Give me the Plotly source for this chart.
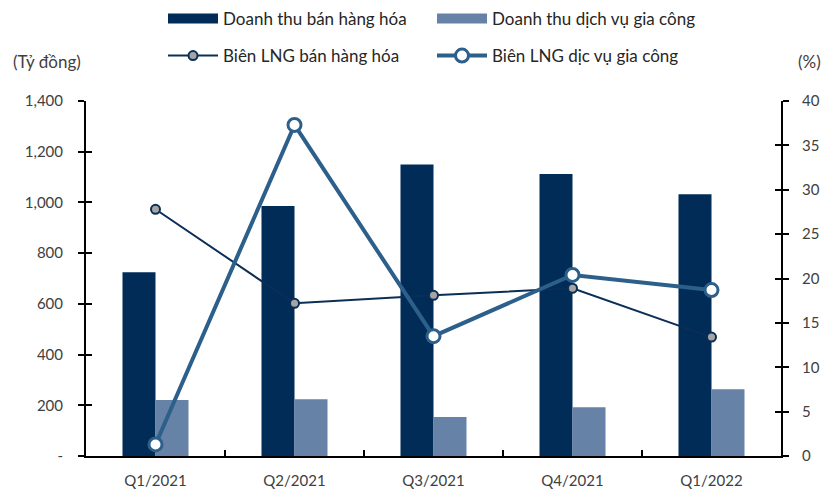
import plotly.graph_objects as go

categories = ["Q1/2021", "Q2/2021", "Q3/2021", "Q4/2021", "Q1/2022"]
rev_goods = [725, 986, 1150, 1112, 1032]
rev_service = [221, 224, 154, 192, 263]
margin_goods = [27.8, 17.2, 18.1, 18.9, 13.4]
margin_service = [1.3, 37.3, 13.5, 20.4, 18.7]

left_ticks = [0, 200, 400, 600, 800, 1000, 1200, 1400]
left_ticktext = ["-", "200", "400", "600", "800", "1,000", "1,200", "1,400"]
right_ticks = [0, 5, 10, 15, 20, 25, 30, 35, 40]

C_DARK = "#012c57"
C_LIGHT = "#6682a6"
C_LINE1 = "#0b2e57"
C_LINE2 = "#2d5f8b"
C_MK1 = "#a5a5a5"
FONT = "Lato"
TXT = "#404040"

# the page body adds an 8px offset; the figure is sized to fill the rest of the window
W, H = 830, 492

fig = go.Figure()

fig.add_trace(go.Bar(x=categories, y=rev_goods, marker=dict(color=C_DARK, line=dict(width=0)),
                     showlegend=False, name="Doanh thu bán hàng hóa"))
fig.add_trace(go.Bar(x=categories, y=rev_service, marker=dict(color=C_LIGHT, line=dict(width=0)),
                     showlegend=False, name="Doanh thu dịch vụ gia công"))

# legend proxies for bars
fig.add_trace(go.Scatter(x=[None], y=[None], mode="lines", line=dict(color=C_DARK, width=12),
                         name="Doanh thu bán hàng hóa", legend="legend"))
fig.add_trace(go.Scatter(x=[None], y=[None], mode="lines", line=dict(color=C_LIGHT, width=12),
                         name="Doanh thu dịch vụ gia công", legend="legend"))

fig.add_trace(go.Scatter(x=categories, y=margin_goods, yaxis="y2", mode="lines+markers",
                         line=dict(color=C_LINE1, width=2),
                         marker=dict(size=9, color=C_MK1, line=dict(color=C_LINE1, width=2)),
                         name="Biên LNG bán hàng hóa", legend="legend2"))
fig.add_trace(go.Scatter(x=categories, y=margin_service, yaxis="y2", mode="lines+markers",
                         line=dict(color=C_LINE2, width=4),
                         marker=dict(size=13, color="white", line=dict(color=C_LINE2, width=3)),
                         name="Biên LNG dịc vụ gia công", legend="legend2"))

# invisible traces to carry inner tick marks
fig.add_trace(go.Scatter(x=categories, y=[None] * 5, yaxis="y3", showlegend=False, hoverinfo="skip"))
fig.add_trace(go.Scatter(x=categories, y=[None] * 5, yaxis="y4", showlegend=False, hoverinfo="skip"))

axis_font = dict(family=FONT, size=15, color=TXT)
leg_font = dict(family=FONT, size=17, color="#262626")

fig.update_layout(
    width=W, height=H,
    margin=dict(l=78, r=57, t=93, b=44),
    paper_bgcolor="white", plot_bgcolor="white",
    barmode="group", bargap=0.525, bargroupgap=0,
    font=dict(family=FONT, size=16, color=TXT),
    xaxis=dict(type="category", showline=True, linecolor="black", linewidth=2,
               ticks="inside", tickson="boundaries", ticklen=6, tickcolor="black", tickwidth=2,
               showgrid=False, tickfont=axis_font, zeroline=False, ticklabelstandoff=10),
    yaxis=dict(range=[0, 1400], tickvals=left_ticks, ticktext=left_ticktext,
               showline=True, linecolor="black", linewidth=2, ticks="outside", ticklen=6,
               tickcolor="black", tickwidth=2, showgrid=False, zeroline=False, tickfont=axis_font,
               ticklabelstandoff=12),
    yaxis2=dict(range=[0, 40], tickvals=right_ticks, overlaying="y", side="right",
                showline=True, linecolor="black", linewidth=2, ticks="outside", ticklen=6,
                tickcolor="black", tickwidth=2, showgrid=False, zeroline=False, tickfont=axis_font,
                ticklabelstandoff=10),
    yaxis3=dict(range=[0, 1400], tickvals=left_ticks, overlaying="y", side="left",
                showticklabels=False, ticks="inside", ticklen=6, tickcolor="black", tickwidth=2,
                showline=False, showgrid=False, zeroline=False),
    yaxis4=dict(range=[0, 40], tickvals=right_ticks, overlaying="y", side="right",
                showticklabels=False, ticks="inside", ticklen=6, tickcolor="black", tickwidth=2,
                showline=False, showgrid=False, zeroline=False),
    legend=dict(orientation="h", xref="container", yref="container", x=155 / W, xanchor="left",
                y=1 - 11 / H, yanchor="middle", itemwidth=50, entrywidth=204,
                font=leg_font, bgcolor="rgba(0,0,0,0)"),
    legend2=dict(orientation="h", xref="container", yref="container", x=155 / W, xanchor="left",
                 y=1 - 48 / H, yanchor="middle", itemwidth=50, entrywidth=204,
                 font=leg_font, bgcolor="rgba(0,0,0,0)"),
    annotations=[
        dict(text="(Tỷ đồng)", xref="paper", yref="paper", x=(11 - 86) / 695, y=1 + 39 / 355,
             xanchor="left", yanchor="middle", showarrow=False, font=dict(family=FONT, size=17, color=TXT)),
        dict(text="(%)", xref="paper", yref="paper", x=1 + 15 / 695, y=1 + 39 / 355,
             xanchor="left", yanchor="middle", showarrow=False, font=dict(family=FONT, size=17, color=TXT)),
    ],
)

fig.write_html("out.html")
